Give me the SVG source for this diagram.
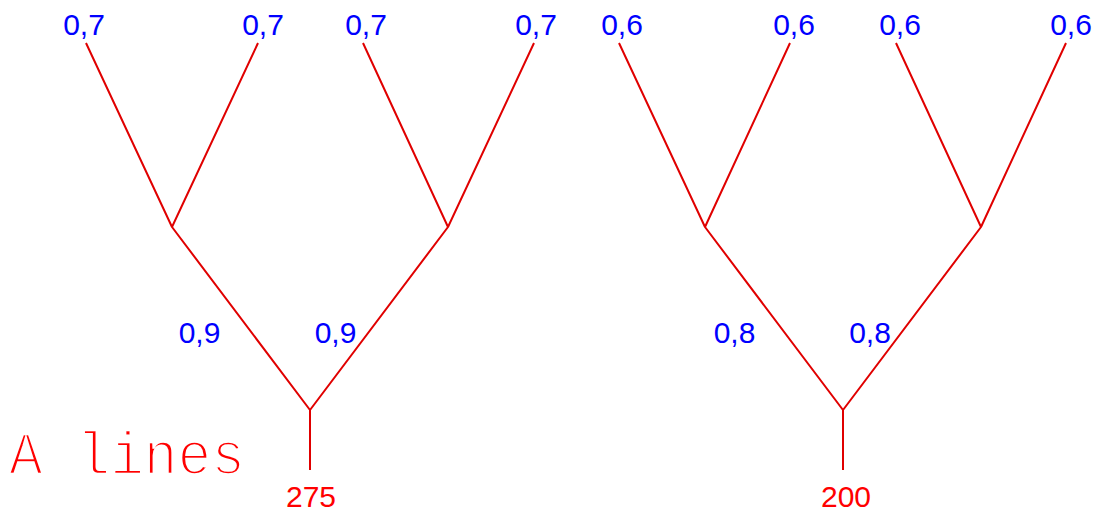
<svg xmlns="http://www.w3.org/2000/svg" width="1098" height="517" viewBox="0 0 1098 517">
<style>
.edge{stroke:#e00000;stroke-width:2;fill:none}
.lbl{font-family:"Liberation Sans",Arial,sans-serif;font-size:30px;fill:#0000ff;text-anchor:middle}
.val{font-family:"Liberation Sans",Arial,sans-serif;font-size:30px;fill:#ff0000;text-anchor:middle}
.title{font-family:"Liberation Mono","DejaVu Sans Mono",monospace;font-size:62px;fill:#ff0000;stroke:#ffffff;stroke-width:2.5px}
</style>
<rect width="1098" height="517" fill="#ffffff"/>
<g id="connectors">
<path class="edge" d="M310,470 L310,410 M310,410 L172,227 M310,410 L448,227 M172,227 L86,43 M172,227 L258,43 M448,227 L363,43 M448,227 L534,43"/>
<path class="edge" d="M843,470 L843,410 M843,410 L705,227 M843,410 L981,227 M705,227 L619,43 M705,227 L790,43 M981,227 L896,43 M981,227 L1066,43"/>
</g>
<g id="tree1">
<text class="lbl" x="84" y="35">0,7</text>
<text class="lbl" x="263" y="35">0,7</text>
<text class="lbl" x="366" y="35">0,7</text>
<text class="lbl" x="536" y="35">0,7</text>
<text class="lbl" x="199.5" y="343">0,9</text>
<text class="lbl" x="335.5" y="343">0,9</text>
<text class="val" x="311" y="507">275</text>
</g>
<g id="tree2">
<text class="lbl" x="622" y="35">0,6</text>
<text class="lbl" x="794" y="35">0,6</text>
<text class="lbl" x="900" y="35">0,6</text>
<text class="lbl" x="1071" y="35">0,6</text>
<text class="lbl" x="734.5" y="343">0,8</text>
<text class="lbl" x="870" y="343">0,8</text>
<text class="val" x="846" y="507">200</text>
</g>
<g id="title">
<text class="title" x="9" y="474" textLength="236" lengthAdjust="spacingAndGlyphs">A lines</text>
</g>
</svg>
